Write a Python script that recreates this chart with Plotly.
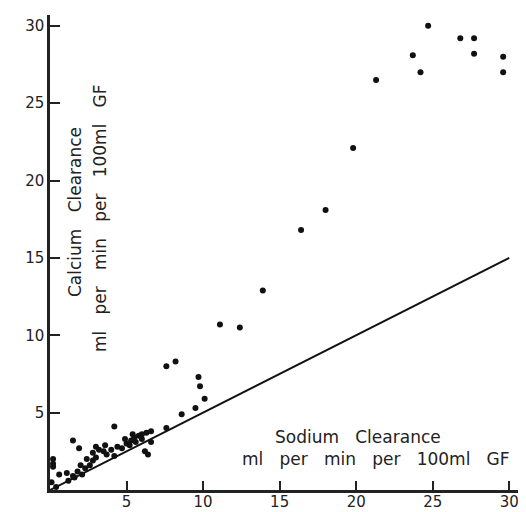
import plotly.graph_objects as go

# Sodium clearance (x) vs calcium clearance (y), ml per min per 100 ml GF
sodium = [24.7, 26.8, 27.7, 23.7, 27.7, 29.6, 24.2, 29.6, 21.3, 19.8, 18.0, 16.4, 13.9, 11.1, 12.4,
          7.6, 8.2, 9.7, 9.8, 10.1, 9.5, 8.6, 7.6, 4.2,
          4.7, 5.0, 5.3, 5.5, 5.8, 6.0, 6.3, 6.6, 5.2, 5.6, 6.0, 4.9, 5.4, 6.2, 6.4, 6.6,
          1.5, 1.9, 3.0, 2.8, 3.2, 3.5, 3.7, 4.0, 3.6, 4.2, 2.4, 3.0, 4.4,
          0.2, 0.2, 0.2, 0.6, 1.1, 0.4, 0.1, 1.2, 1.6, 1.8, 2.1, 2.3, 2.6, 2.0, 1.5, 2.8]
calcium = [30.0, 29.2, 29.2, 28.1, 28.2, 28.0, 27.0, 27.0, 26.5, 22.1, 18.1, 16.8, 12.9, 10.7, 10.5,
           8.0, 8.3, 7.3, 6.7, 5.9, 5.3, 4.9, 4.0, 4.1,
           2.7, 3.0, 3.2, 3.4, 3.5, 3.6, 3.7, 3.8, 2.9, 3.1, 3.3, 3.3, 3.6, 2.5, 2.3, 3.1,
           3.2, 2.7, 2.8, 2.4, 2.6, 2.5, 2.3, 2.6, 2.9, 2.2, 2.0, 2.1, 2.8,
           2.0, 1.7, 1.5, 1.0, 1.1, 0.2, 0.5, 0.6, 0.8, 1.2, 1.0, 1.4, 1.6, 1.6, 0.9, 1.9]

# reference line: Ca clearance = 0.5 x Na clearance
line_x = [0, 30]
line_y = [0, 15]

tick_vals = [5, 10, 15, 20, 25, 30]
tick_text = ["5", "10", "15", "20", "25", "30"]

fig = go.Figure()
fig.add_trace(go.Scatter(x=line_x, y=line_y, mode="lines",
                         line=dict(color="#111", width=2), hoverinfo="skip"))
fig.add_trace(go.Scatter(x=sodium, y=calcium, mode="markers",
                         marker=dict(color="#111", size=6)))

font = dict(family="DejaVu Sans", size=15, color="#222")
# the page body adds an 8px margin, so the figure is sized/offset to compensate
fig.update_layout(
    width=518, height=504,
    margin=dict(l=42, r=6, t=7, b=22),
    paper_bgcolor="white", plot_bgcolor="white",
    showlegend=False,
    font=font,
    xaxis=dict(range=[0, 30.7], tickvals=tick_vals, ticktext=tick_text,
               ticks="inside", ticklen=9, tickwidth=2, tickcolor="#222",
               ticklabelstandoff=-4,
               showgrid=False, zeroline=False, showline=True, automargin=False,
               linecolor="#222", linewidth=2.5, tickfont=font),
    yaxis=dict(range=[0, 30.7], tickvals=tick_vals, ticktext=tick_text,
               ticks="inside", ticklen=10, tickwidth=2, tickcolor="#222",
               showgrid=False, zeroline=False, showline=True, automargin=False,
               linecolor="#222", linewidth=2.5, tickfont=font),
)

ann_font = dict(family="DejaVu Sans", size=17, color="#222")
unit_text = "ml   per   min   per   100ml   GF"
fig.add_annotation(text="Calcium   Clearance", xref="paper", yref="paper",
                   x=(75 - 50) / 470, y=(490 - 212) / 475, textangle=-90,
                   showarrow=False, font=ann_font, xanchor="center", yanchor="middle")
fig.add_annotation(text=unit_text, xref="paper", yref="paper",
                   x=(100 - 50) / 470, y=(490 - 218) / 475, textangle=-90,
                   showarrow=False, font=ann_font, xanchor="center", yanchor="middle")
fig.add_annotation(text="Sodium   Clearance", xref="paper", yref="paper",
                   x=(358 - 50) / 470, y=(490 - 437) / 475,
                   showarrow=False, font=ann_font, xanchor="center", yanchor="middle")
fig.add_annotation(text=unit_text, xref="paper", yref="paper",
                   x=(376 - 50) / 470, y=(490 - 459) / 475,
                   showarrow=False, font=ann_font, xanchor="center", yanchor="middle")

fig.write_html("out.html")
